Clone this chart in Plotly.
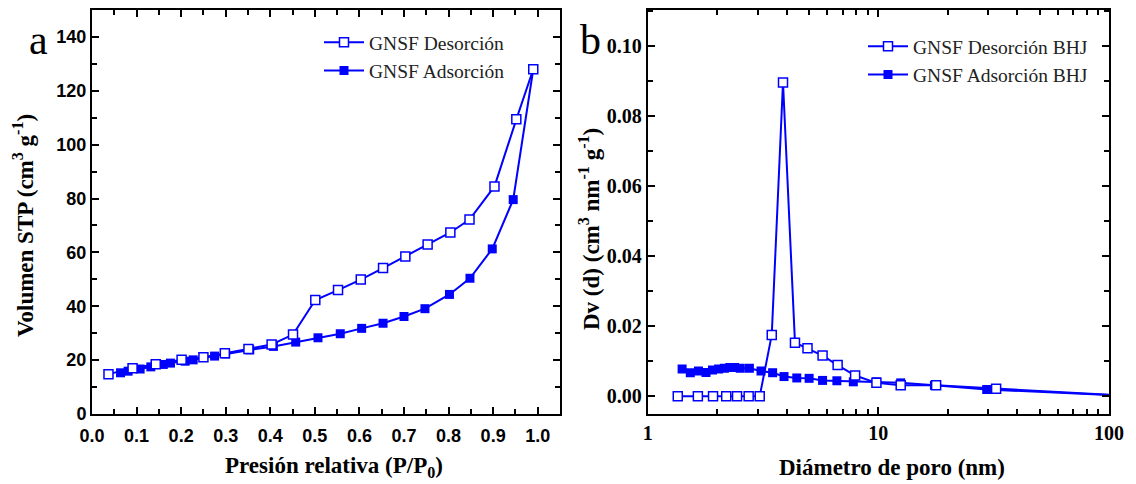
import plotly.graph_objects as go

# ---- Panel a: isotherm ----
p_des = [0.037, 0.091, 0.143, 0.201, 0.250, 0.298, 0.351, 0.403, 0.451, 0.501, 0.552, 0.603,
         0.653, 0.703, 0.753, 0.804, 0.847, 0.903, 0.952, 0.990]
v_des = [14.8, 17.0, 18.5, 20.1, 21.1, 22.6, 24.1, 25.8, 29.5, 42.3, 46.0, 49.9,
         54.2, 58.5, 62.9, 67.4, 72.2, 84.5, 109.4, 128.0]
p_ads = [0.064, 0.081, 0.108, 0.132, 0.160, 0.176, 0.209, 0.227, 0.275, 0.300, 0.354, 0.407,
         0.457, 0.507, 0.557, 0.605, 0.653, 0.700, 0.747, 0.802, 0.848, 0.898, 0.945, 0.990]
v_ads = [15.3, 15.9, 16.7, 17.5, 18.4, 18.9, 19.6, 20.1, 21.5, 22.3, 23.8, 25.1,
         26.7, 28.3, 29.8, 31.8, 33.7, 36.2, 39.1, 44.4, 50.4, 61.3, 79.6, 128.0]

# ---- Panel b: BJH pore size distribution ----
d_des = [1.35, 1.65, 1.92, 2.19, 2.44, 2.74, 3.06, 3.45, 3.86, 4.35, 4.93, 5.73, 6.66,
         7.93, 9.81, 12.5, 17.8, 32.4, 130]
dv_des = [0.0, 0.0, 0.0, 0.0, 0.0, 0.0, 0.0, 0.0175, 0.0897, 0.0153, 0.0137, 0.0116, 0.0089,
          0.0059, 0.0038, 0.0031, 0.0031, 0.0021, 0.0]
d_ads = [1.41, 1.53, 1.66, 1.79, 1.91, 2.03, 2.15, 2.27, 2.38, 2.52, 2.76, 3.10, 3.48, 3.90,
         4.43, 5.01, 5.73, 6.61, 7.79, 9.81, 12.5, 17.5, 29.5, 130]
dv_ads = [0.0078, 0.0067, 0.0072, 0.0068, 0.0075, 0.0078, 0.0080, 0.0082, 0.0082, 0.0080,
          0.0080, 0.0072, 0.0067, 0.0056, 0.0052, 0.0051, 0.0045, 0.0044, 0.0041, 0.0041,
          0.0038, 0.0031, 0.0019, 0.0]

x_title_a = "Presión relativa (P/P<sub>0</sub>)"
y_title_a = "Volumen STP (cm<sup>3</sup> g<sup>-1</sup>)"
x_title_b = "Diámetro de poro (nm)"
y_title_b = "Dv (d) (cm<sup>3</sup> nm<sup>-1</sup> g<sup>-1</sup>)"

BLUE = "#0000FF"
SERIF = "Liberation Serif, Times New Roman, serif"
SANS = "Liberation Sans, Arial, sans-serif"

fig = go.Figure()

open_marker = dict(symbol="square", size=9, color="white", line=dict(color=BLUE, width=1.5))
filled_marker = dict(symbol="square", size=9, color=BLUE, line=dict(color=BLUE, width=0))

fig.add_trace(go.Scatter(x=p_ads, y=v_ads, mode="lines+markers", name="GNSF Adsorción",
                         line=dict(color=BLUE, width=2), marker=filled_marker,
                         xaxis="x", yaxis="y", legend="legend", legendrank=2))
fig.add_trace(go.Scatter(x=p_des, y=v_des, mode="lines+markers", name="GNSF Desorción",
                         line=dict(color=BLUE, width=2), marker=open_marker,
                         xaxis="x", yaxis="y", legend="legend", legendrank=1))
fig.add_trace(go.Scatter(x=d_ads, y=dv_ads, mode="lines+markers", name="GNSF Adsorción BHJ",
                         line=dict(color=BLUE, width=2), marker=filled_marker,
                         xaxis="x2", yaxis="y2", legend="legend2", legendrank=2))
fig.add_trace(go.Scatter(x=d_des, y=dv_des, mode="lines+markers", name="GNSF Desorción BHJ",
                         line=dict(color=BLUE, width=2), marker=open_marker,
                         xaxis="x2", yaxis="y2", legend="legend2", legendrank=1))

W, H = 1136, 484
ybot, ytop = 1 - 414 / H, 1 - 10 / H

common = dict(showline=True, linewidth=2, linecolor="black", mirror="ticks",
              ticks="inside", ticklen=7, tickwidth=2, tickcolor="black",
              showgrid=False, zeroline=False)
minor = dict(ticks="inside", ticklen=5, tickwidth=2, tickcolor="black", showgrid=False)

title_font = dict(family=SERIF, size=23, color="black", weight="bold")
leg_font = dict(family=SERIF, size=19.5, color="#222")


def ann(text, x, y, angle=0):
    return dict(text=text, x=x / W, y=1 - y / H, xref="paper", yref="paper", showarrow=False,
                textangle=angle, font=title_font, xanchor="center", yanchor="middle")


fig.update_layout(
    width=W, height=H,
    margin=dict(l=0, r=0, t=0, b=0),
    paper_bgcolor="white", plot_bgcolor="white",
    showlegend=True,
    xaxis=dict(domain=[92 / W, 560 / W], range=[0, 1.05], dtick=0.1, tick0=0,
               tickformat=".1f", minor=dict(dtick=0.05, **minor),
               tickfont=dict(family=SANS, size=18, color="black", weight="bold"),
               ticklabelstandoff=4,
               anchor="y", automargin=False, **common),
    yaxis=dict(domain=[ybot, ytop], range=[0, 150], dtick=20, tick0=0,
               minor=dict(dtick=10, **minor),
               tickfont=dict(family=SANS, size=18, color="black", weight="bold"),
               anchor="x", automargin=False, **common),
    xaxis2=dict(domain=[647.7 / W, 1109 / W], type="log", range=[0, 2], dtick=1,
                minor=dict(dtick="D1", **minor),
                tickfont=dict(family=SERIF, size=20, color="black", weight="bold"),
                anchor="y2", automargin=False, **common),
    yaxis2=dict(domain=[ybot, ytop], range=[-0.0051, 0.1104], dtick=0.02, tick0=0,
                tickformat=".2f", minor=dict(dtick=0.01, **minor),
                tickfont=dict(family=SERIF, size=20, color="black", weight="bold"),
                anchor="x2", automargin=False, **common),
    legend=dict(x=319 / W, y=1 - 23 / H, xanchor="left", yanchor="top",
                bgcolor="rgba(0,0,0,0)", font=leg_font, itemwidth=40),
    legend2=dict(x=863 / W, y=1 - 27 / H, xanchor="left", yanchor="top",
                 bgcolor="rgba(0,0,0,0)", font=leg_font, itemwidth=40),
    annotations=[
        dict(text="a", x=38 / W, y=1 - 40 / H, xref="paper", yref="paper", showarrow=False,
             font=dict(family=SERIF, size=42, color="black"), xanchor="center", yanchor="middle"),
        dict(text="b", x=590 / W, y=1 - 40 / H, xref="paper", yref="paper", showarrow=False,
             font=dict(family=SERIF, size=42, color="black"), xanchor="center", yanchor="middle"),
        ann(x_title_a, 334, 467),
        ann(x_title_b, 892, 467),
        ann(y_title_a, 23, 226, -90),
        ann(y_title_b, 590, 229, -90),
    ],
)

fig.write_html("out.html")
